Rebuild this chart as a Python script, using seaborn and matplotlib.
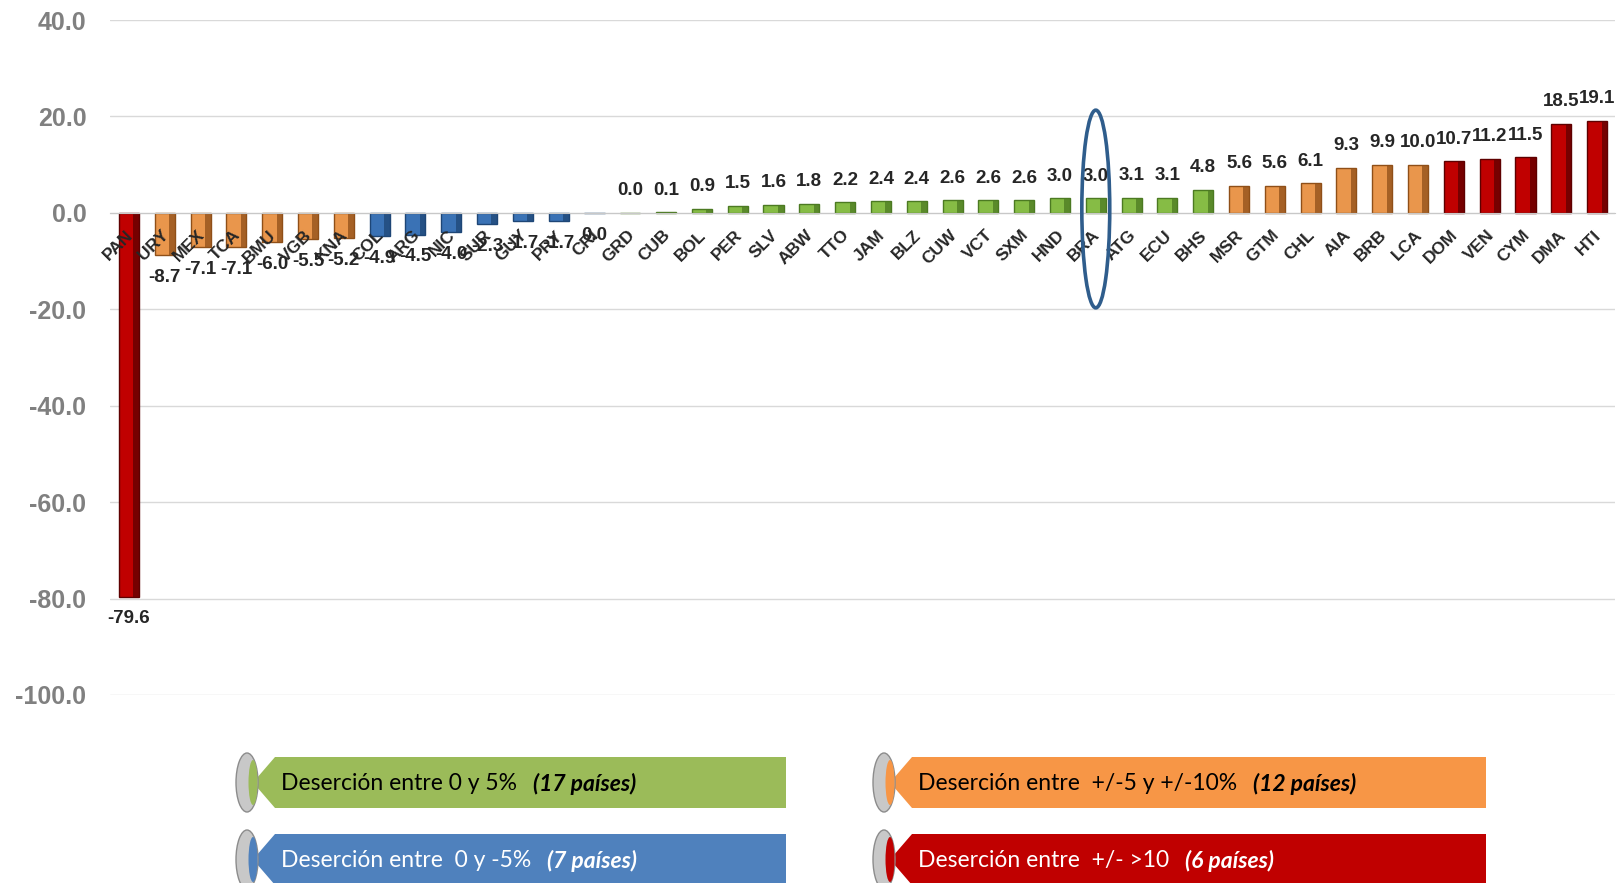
#!/usr/bin/env python3
"""
Deserción por país: barras ordenadas con grupos de color
"""

import numpy as np
import pandas as pd
import matplotlib.pyplot as plt
import seaborn as sns
from matplotlib.patches import Polygon, Ellipse, Rectangle

# Datos
paises = ['PAN', 'URY', 'MEX', 'TCA', 'BMU', 'VGB', 'KNA', 'COL', 'ARG', 'NIC',
          'SUR', 'GUY', 'PRY', 'CRI', 'GRD', 'CUB', 'BOL', 'PER', 'SLV', 'ABW',
          'TTO', 'JAM', 'BLZ', 'CUW', 'VCT', 'SXM', 'HND', 'BRA', 'ATG', 'ECU',
          'BHS', 'MSR', 'GTM', 'CHL', 'AIA', 'BRB', 'LCA', 'DOM', 'VEN', 'CYM',
          'DMA', 'HTI']
valores = [-79.6, -8.7, -7.1, -7.1, -6.0, -5.5, -5.2, -4.9, -4.5, -4.0,
           -2.3, -1.7, -1.7, -0.0, 0.0, 0.1, 0.9, 1.5, 1.6, 1.8,
           2.2, 2.4, 2.4, 2.6, 2.6, 2.6, 3.0, 3.0, 3.1, 3.1,
           4.8, 5.6, 5.6, 6.1, 9.3, 9.9, 10.0, 10.7, 11.2, 11.5,
           18.5, 19.1]
grupos = (['rojo'] + ['naranja'] * 6 + ['azul'] * 7 + ['verde'] * 17
          + ['naranja'] * 6 + ['rojo'] * 5)

grupo_orden = ['verde', 'azul', 'naranja', 'rojo']
grupo_texto = {
    'verde': 'Deserción entre 0 y 5%',
    'azul': 'Deserción entre  0 y -5%',
    'naranja': 'Deserción entre  +/-5 y +/-10%',
    'rojo': 'Deserción entre  +/- >10',
}
pais_destacado = 'BRA'

colores = {'verde': '#86BC45', 'azul': '#3A72B5', 'naranja': '#E9964C', 'rojo': '#C00000'}
sombras = {'verde': '#4C7A22', 'azul': '#1E4676', 'naranja': '#8F4F18', 'rojo': '#5E0000'}
leyenda_fondo = {'verde': '#9BBB59', 'azul': '#4F81BD', 'naranja': '#F79646', 'rojo': '#C00000'}
leyenda_texto = {'verde': 'black', 'azul': 'white', 'naranja': 'black', 'rojo': 'white'}

df = pd.DataFrame({'pais': paises, 'valor': valores, 'grupo': grupos})

sns.set_style('white')
plt.rcParams['font.family'] = ['Liberation Sans', 'DejaVu Sans']

fig = plt.figure(figsize=(16.18, 8.83), dpi=100)
W, H = 1618, 883
ax = fig.add_axes([110 / W, 1 - 695 / H, (1615 - 110) / W, (695 - 20) / H])

sns.barplot(data=df, x='pais', y='valor', hue='grupo', palette=colores,
            order=paises, dodge=False, width=0.56, saturation=1,
            legend=False, ax=ax)

n = len(paises)
# efecto de bisel: borde y franja oscura a la derecha
for p in list(ax.patches):
    idx = int(round(p.get_x() + p.get_width() / 2))
    if 0 <= idx < n:
        g = grupos[idx]
        p.set_edgecolor(sombras[g])
        p.set_linewidth(1.0)
        w = p.get_width()
        ax.add_patch(Rectangle((p.get_x() + 0.72 * w, p.get_y()), 0.28 * w,
                               p.get_height(), fc=sombras[g], ec='none',
                               alpha=0.75, zorder=p.get_zorder() + 0.1))

ax.set_ylim(-100, 40)
ax.set_xlim(-0.53, n - 0.5)
ax.set_yticks(np.arange(-100, 41, 20))
ax.set_yticklabels([f"{t:.1f}" for t in np.arange(-100, 41, 20)])
ax.yaxis.grid(True, color='#D9D9D9', lw=1)
ax.set_axisbelow(True)
for s in ['top', 'right', 'left']:
    ax.spines[s].set_visible(False)
ax.spines['bottom'].set_position(('data', 0))
ax.spines['bottom'].set_color('#C8C8C8')
ax.tick_params(axis='y', length=0, pad=17, labelsize=18, labelcolor='#808080')
for lab in ax.get_yticklabels():
    lab.set_fontweight('bold')

ax.set_xticks(np.arange(-0.5, n, 1), minor=True)
ax.tick_params(axis='x', which='minor', length=5, color='#C8C8C8', direction='out')
ax.set_xticks(np.arange(n))
ax.set_xticklabels([])
ax.tick_params(axis='x', which='major', length=0)
ax.set_xlabel('')
ax.set_ylabel('')

# nombres de países (sobre las barras)
for i, pais in enumerate(paises):
    ax.text(i + 0.05, -4.1, pais, rotation=45, rotation_mode='anchor',
            ha='right', va='center', fontsize=12.5, fontweight='bold', zorder=6)

# etiquetas de valor
for i, v in enumerate(valores):
    txt = f"{v:.1f}".replace('-0.0', '0.0')
    off = -16 if np.signbit(v) else 16
    ax.annotate(txt, (i, v), xytext=(0, off), textcoords='offset points',
                ha='center', va='center', fontsize=13.5, fontweight='bold',
                fontstretch='condensed', zorder=6,
                family=['Liberation Sans Narrow', 'Liberation Sans'])

# óvalo sobre el país destacado
ib = paises.index(pais_destacado)
ax.add_patch(Ellipse((ib, 0.8), 0.78, 41, fill=False, ec='#2F5D8C', lw=2.6,
                     zorder=7, clip_on=False))

# leyenda en forma de banderines
lax = fig.add_axes([0, 0, 1, 1])
lax.set_xlim(0, W)
lax.set_ylim(H, 0)
lax.axis('off')
renderer = fig.canvas.get_renderer()

posiciones = {'verde': (235, 786, 757, 808), 'azul': (235, 786, 834, 885),
              'naranja': (872, 1486, 757, 808), 'rojo': (872, 1486, 834, 885)}
for g in grupo_orden:
    x0, x1, y0, y1 = posiciones[g]
    mid = (y0 + y1) / 2
    lax.add_patch(Polygon([(x0 + 40, y0), (x1, y0), (x1, y1), (x0 + 40, y1),
                           (x0 + 18, mid)], closed=True, fc=leyenda_fondo[g], ec='none'))
    lax.add_patch(Ellipse((x0 + 12, mid), 22, (y1 - y0) + 8, fc='#C8C8C8',
                          ec='#8C8C8C', lw=1))
    lax.add_patch(Ellipse((x0 + 18, mid), 9, (y1 - y0) - 6, fc=leyenda_fondo[g],
                          ec='none'))
    cuenta = grupos.count(g)
    t1 = lax.text(x0 + 46, mid + 1, grupo_texto[g], va='center', ha='left',
                  fontsize=16.5, color=leyenda_texto[g], family=['Lato', 'DejaVu Sans'])
    bb = t1.get_window_extent(renderer=renderer)
    lax.text(bb.x1 + 16, mid + 1, f"({cuenta} países)", va='center', ha='left',
             fontsize=16.5, color=leyenda_texto[g], fontweight='bold',
             fontstyle='italic', family=['Lato', 'DejaVu Sans'])

plt.savefig('out.png', dpi=100)
plt.close()
